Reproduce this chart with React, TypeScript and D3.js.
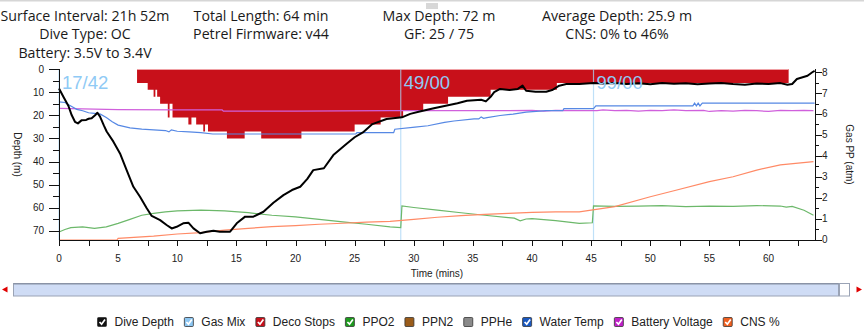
import React, { useMemo } from "react";
import * as d3 from "d3";

// ---------- data ----------
const headerCol1 = ["Surface Interval: 21h 52m", "Dive Type: OC", "Battery: 3.5V to 3.4V"];
const headerCol2 = ["Total Length: 64 min", "Petrel Firmware: v44"];
const headerCol3 = ["Max Depth: 72 m", "GF: 25 / 75"];
const headerCol4 = ["Average Depth: 25.9 m", "CNS: 0% to 46%"];

const depthTicks = [0, 10, 20, 30, 40, 50, 60, 70];
const timeTicks = [0, 5, 10, 15, 20, 25, 30, 35, 40, 45, 50, 55, 60];
const ppTicks = [0, 1, 2, 3, 4, 5, 6, 7, 8];

// [time (min), depth (m)]
const depthProfile: [number, number][] = [
  [0, 8.4], [0.37, 12], [0.8, 16], [1.07, 19.9], [1.35, 22.8], [1.6, 23.5], [1.9, 22.2], [2.3, 22],
  [2.5, 21.5], [2.76, 21.3], [3.05, 20], [3.25, 18.9], [3.47, 20.6], [3.8, 24.5], [4.03, 27],
  [4.6, 31.4], [5.16, 36.5], [5.72, 43.7], [6.29, 50.9], [6.85, 55.2], [7.42, 60.2], [7.84, 63.5],
  [8.55, 65.3], [9.1, 67.4], [9.53, 68.9], [9.95, 68.2], [10.5, 66.7], [10.94, 66.4], [11.37, 68.9],
  [11.93, 71.0], [12.49, 70.3], [13.06, 69.9], [13.6, 70.3], [14.47, 70.3], [15.03, 66.7],
  [15.74, 63.8], [16.44, 63.8], [17.29, 61.7], [18.13, 57.8], [18.98, 54.5], [19.7, 52.3],
  [20.4, 50.9], [21.0, 47.5], [21.5, 43.7], [22.4, 42.9], [23.2, 37.2], [24.3, 32.4], [25.0, 29.5],
  [25.7, 27.4], [26.5, 23.8], [27.7, 21.6], [29.0, 20.9], [29.7, 19.4], [30.5, 18.4], [31.7, 17.0],
  [32.8, 15.8], [33.7, 14.8], [34.5, 13.7], [35.7, 13.3], [36.1, 14.0], [36.5, 12.0], [36.8, 10.0],
  [37.3, 8.6], [38.1, 9.1], [38.8, 8.6], [39.2, 7.2], [39.5, 9.4], [40.3, 9.8], [41.2, 9.8],
  [41.7, 9.1], [42.3, 7.2], [42.9, 6.5], [44.0, 6.5], [45.2, 6.1], [46, 6.3], [47, 6.0], [48, 6.5],
  [49, 6.2], [50, 6.6], [51, 6.1], [52, 6.4], [53, 6.2], [54, 6.6], [55, 6.3], [56, 6.0], [57, 6.5],
  [58, 6.8], [59, 6.3], [60, 6.5], [61, 6.1], [61.6, 6.8], [62.0, 6.5], [62.4, 4.3], [63.3, 2.9],
  [63.7, 1.4], [63.9, 0.8],
];

// deco ceiling: [start time (min), ceiling depth (m)]
const decoStops: [number, number][] = [
  [6.6, 6], [7.5, 9], [8.0, 12], [8.15, 9], [8.3, 12], [8.55, 15], [9.2, 21], [9.35, 15],
  [9.6, 21], [10.94, 24], [11.2, 21], [11.6, 24], [12.2, 27], [12.35, 24], [12.6, 27], [14.2, 30],
  [15.7, 27], [17.1, 30], [20.5, 27], [25.0, 24], [27.2, 21], [29.1, 18], [30.8, 15], [32.9, 12],
  [36.5, 9], [42.1, 6], [61.7, 0],
];

// [time, PPO2 atm]
const ppo2: [number, number][] = [
  [0, 0.36], [0.5, 0.48], [1, 0.57], [2, 0.6], [3, 0.53], [4, 0.6], [5, 0.77], [6, 0.96], [7, 1.16],
  [8, 1.25], [9, 1.32], [10, 1.37], [12, 1.40], [14, 1.37], [16, 1.28], [18, 1.16], [20, 1.08],
  [22, 0.96], [24, 0.84], [26, 0.73], [28, 0.60], [28.9, 0.57], [29.0, 1.60], [30, 1.53], [32, 1.40],
  [34, 1.28], [36, 1.16], [38, 1.05], [38.5, 1.02], [39, 0.89], [39.5, 0.98], [40, 1.0], [42, 0.9],
  [44, 0.77], [45.1, 0.80], [45.2, 1.61], [47, 1.58], [49, 1.60], [51, 1.62], [53, 1.57], [55, 1.60],
  [57, 1.58], [59, 1.62], [61, 1.60], [61.5, 1.55], [62, 1.58], [63, 1.40], [63.8, 1.16],
];

// [time, CNS %]
const cns: [number, number][] = [
  [0, 0], [4.9, 0], [5, 1.0], [8, 2.3], [10, 3.5], [12, 4.3], [14, 5.8], [16, 6.8], [18, 7.8],
  [20, 8.4], [22, 9.2], [24, 9.8], [26, 10.4], [28, 10.9], [30, 12.1], [32, 13.3], [34, 14.2],
  [36, 15.0], [38, 15.6], [40, 16.2], [42, 16.5], [44, 16.5], [45, 17.5], [47, 19.5], [50, 25.3],
  [52, 28.8], [55, 34.1], [57, 37.0], [59, 40.9], [61, 43.9], [63.8, 45.8],
];

// [time, water temp °C]
const waterTemp: [number, number][] = [
  [0, 20.2], [0.5, 20.1], [1, 19.6], [1.5, 19.1], [2, 18.9], [2.5, 18.6], [3, 18.5], [3.5, 18.4],
  [4, 17.9], [4.5, 17.3], [5, 16.8], [6, 16.4], [7, 16.2], [8, 16.1], [9, 16.0], [9.3, 15.8],
  [9.5, 16.1], [10, 15.9], [11, 15.8], [12, 15.7], [13, 15.5], [14, 15.5], [25.1, 15.5],
  [25.2, 15.7], [28.3, 15.7], [28.4, 16.2], [30.1, 16.5], [31.2, 16.7], [32.6, 17.2], [33.4, 17.4],
  [35.1, 17.7], [35.5, 17.7], [35.7, 18.0], [35.9, 17.8], [36.2, 17.9], [37.3, 18.2], [38.4, 18.4],
  [39.5, 18.7], [41.2, 18.9], [42.6, 18.9], [42.7, 19.2], [45.2, 19.2], [45.4, 19.6], [53.6, 19.6],
  [53.75, 20.0], [53.9, 19.6], [54.05, 20.0], [54.2, 19.6], [54.4, 20.0], [63.9, 20.0],
];

// [time, battery V]
const battery: [number, number][] = [
  [0, 3.50], [2, 3.49], [5, 3.47], [10, 3.46], [13.8, 3.46], [13.9, 3.43], [20, 3.43], [28, 3.44],
  [35, 3.44], [38, 3.44], [40, 3.45], [41, 3.43], [42, 3.45], [44, 3.44], [45.5, 3.44], [46, 3.46],
  [47, 3.44], [48, 3.45], [49, 3.43], [50, 3.45], [51, 3.44], [52, 3.46], [53, 3.44], [54.5, 3.45],
  [55, 3.42], [56, 3.44], [57, 3.43], [58, 3.45], [59, 3.44], [60, 3.42], [61, 3.45], [62, 3.44],
  [63, 3.45], [63.8, 3.44],
];

const gasSwitchTimes = [0, 28.9, 45.2];
const gasSwitchLabels = ["17/42", "49/00", "99/00"];

const legendLabels = ["Dive Depth", "Gas Mix", "Deco Stops", "PPO2", "PPN2", "PPHe", "Water Temp", "Battery Voltage", "CNS %"];
const legendColors = ["#111111", "#8cc6f2", "#c8101a", "#1e9a1e", "#9a5c1a", "#8a8a8a", "#1a58c0", "#c020c8", "#f06020"];
const legendChecked = [true, true, true, true, false, false, true, true, true];

// ---------- layout ----------
const W = 864, H = 334;
const PL = 59, PR = 815, PT = 69, PB = 240;
const AX = "Liberation Sans, Arial, sans-serif";
const HEAD = "'Open Sans', Lato, sans-serif";

function measure(text: string, font: string) {
  const c = document.createElement("canvas").getContext("2d");
  if (!c) return text.length * 6.5;
  c.font = font;
  return c.measureText(text).width;
}

export default function App() {
  const x = d3.scaleLinear().domain([0, 63.93]).range([PL, PR]);
  const yDepth = d3.scaleLinear().domain([0, 73.9]).range([PT, PB]);
  const yPP = d3.scaleLinear().domain([0, 8.15]).range([239.5, PT]);
  const yCns = d3.scaleLinear().domain([0, 100]).range([PB, PT]);
  const yTemp = d3.scaleLinear().domain([0, 25]).range([PB, PT]);
  const yBatt = d3.scaleLinear().domain([0, 4.55]).range([PB, PT]);

  const lineOf = (ys: d3.ScaleLinear<number, number>) =>
    d3.line<[number, number]>().x((d) => x(d[0])).y((d) => ys(d[1]));

  const decoArea = d3
    .area<[number, number]>()
    .x((d) => x(d[0]))
    .y0(yDepth(0))
    .y1((d) => yDepth(d[1]))
    .curve(d3.curveStepAfter);

  const depthMinor = d3.range(0, 75, 5);
  const timeMinor = d3.range(0, 63.9, 2.5);
  const ppMinor = d3.range(0, 8.01, 0.5);

  const legend = useMemo(() => {
    let cx = 97;
    return legendLabels.map((l, i) => {
      const w = measure(l, `12px ${AX}`);
      const item = { x: cx, label: l, color: legendColors[i], checked: legendChecked[i] };
      cx += 17.5 + w + 10;
      return item;
    });
  }, []);

  const headCols = [headerCol1, headerCol2, headerCol3, headerCol4];
  const headX = [85, 261, 439, 617];
  const headY = [20.5, 39, 58];

  return (
    <svg width={W} height={H} style={{ position: "absolute", left: 0, top: 0, background: "#fff" }}>
      {/* top strip */}
      <rect x={0} y={0} width={W} height={1.5} fill="#d6d6d6" />
      {[4, 6, 8].map((yy) => (
        <line key={yy} x1={426} x2={438} y1={yy} y2={yy} stroke="#b0b0b0" strokeWidth={1} />
      ))}

      {/* header */}
      {headCols.map((col, ci) =>
        col.map((t, li) => (
          <text key={`${ci}-${li}`} x={headX[ci]} y={headY[li]} textAnchor="middle"
            fontFamily={HEAD} fontSize={14.2} fill="#1a1a1a">{t}</text>
        ))
      )}

      {/* deco stops */}
      <path d={decoArea(decoStops) || ""} fill="#c8101a" />
      <line x1={x(decoStops[0][0])} x2={x(decoStops[decoStops.length - 1][0])} y1={PT + 0.5} y2={PT + 0.5}
        stroke="#f0a0a4" strokeWidth={1} />

      {/* gas switch lines */}
      {gasSwitchTimes.map((t) => (
        <line key={t} x1={x(t)} x2={x(t)} y1={PT} y2={PB} stroke="#a9d5f6" strokeOpacity={0.75} strokeWidth={1.2} />
      ))}

      {/* series */}
      <path d={lineOf(yBatt)(battery) || ""} fill="none" stroke="#d060dc" strokeWidth={1.2} />
      <path d={lineOf(yTemp)(waterTemp) || ""} fill="none" stroke="#5688e4" strokeWidth={1.2} />
      <path d={lineOf(yPP)(ppo2) || ""} fill="none" stroke="#6cb86a" strokeWidth={1.2} />
      <path d={lineOf(yCns)(cns) || ""} fill="none" stroke="#ff8a66" strokeWidth={1.2} />
      <path d={lineOf(yDepth)(depthProfile) || ""} fill="none" stroke="#000" strokeWidth={2} strokeLinejoin="round" />

      {/* gas labels */}
      {gasSwitchTimes.map((t, i) => (
        <text key={t} x={x(t) + 3} y={89} fontFamily={AX} fontSize={18.5} fill="#8fcaf5">{gasSwitchLabels[i]}</text>
      ))}

      {/* axes */}
      <g stroke="#111" strokeWidth={1}>
        <line x1={PL + 0.5} x2={PL + 0.5} y1={PT} y2={PB} />
        <line x1={PR + 0.5} x2={PR + 0.5} y1={PT} y2={PB} />
        <line x1={PL} x2={PR + 1} y1={PB + 0.5} y2={PB + 0.5} />
        {depthMinor.map((d) => (
          <line key={`dm${d}`} x1={PL - (d % 10 === 0 ? 10 : 6)} x2={PL} y1={Math.round(yDepth(d)) + 0.5} y2={Math.round(yDepth(d)) + 0.5} />
        ))}
        {timeMinor.map((t) => (
          <line key={`tm${t}`} x1={Math.round(x(t)) + 0.5} x2={Math.round(x(t)) + 0.5} y1={PB} y2={PB + 6} />
        ))}
        {ppMinor.map((p) => (
          <line key={`pm${p}`} x1={PR} x2={PR + (p % 1 === 0 ? 7 : 4)} y1={Math.round(yPP(p)) + 0.5} y2={Math.round(yPP(p)) + 0.5} />
        ))}
      </g>
      <g fontFamily={AX} fontSize={10} fill="#222">
        {depthTicks.map((d) => (
          <text key={`dl${d}`} x={44} y={yDepth(d) + 3.5} textAnchor="end">{d}</text>
        ))}
        {timeTicks.map((t) => (
          <text key={`tl${t}`} x={x(t)} y={261.5} textAnchor="middle">{t}</text>
        ))}
        {ppTicks.map((p) => (
          <text key={`pl${p}`} x={822} y={yPP(p) + 3.5}>{p}</text>
        ))}
        <text x={(PL + PR) / 2} y={277} textAnchor="middle">Time (mins)</text>
        <text transform={`translate(14,${(PT + PB) / 2}) rotate(90)`} textAnchor="middle">Depth (m)</text>
        <text transform={`translate(846,${(PT + PB) / 2}) rotate(90)`} textAnchor="middle">Gas PP (atm)</text>
      </g>

      {/* scrollbar */}
      <g>
        <polygon points="2,289.5 7.5,286.5 7.5,292.5" fill="#e00000" />
        <rect x={13.5} y={283.5} width={825} height={12.5} fill="#cfdcf5" stroke="#9aa3b5" />
        <line x1={13.5} x2={838.5} y1={283.8} y2={283.8} stroke="#8a93a6" strokeWidth={1.5} />
        <rect x={839.5} y={283.5} width={10} height={12.5} fill="#fff" stroke="#9aa3b5" />
        <polygon points="862,289.5 856.5,286.5 856.5,292.5" fill="#e00000" />
      </g>

      {/* legend */}
      <g fontFamily={AX} fontSize={12} fill="#222">
        {legend.map((it) => (
          <g key={it.label}>
            <rect x={it.x + 0.5} y={317.5} width={9} height={9} fill={it.color} stroke="#333" strokeWidth={0.8} rx={1} />
            {it.checked && (
              <path d={`M${it.x + 2.5},${322} L${it.x + 4.6},${324.2} L${it.x + 8},${319.6}`} fill="none" stroke="#fff" strokeWidth={1.7} />
            )}
            <text x={it.x + 17.5} y={326.2}>{it.label}</text>
          </g>
        ))}
      </g>
    </svg>
  );
}
